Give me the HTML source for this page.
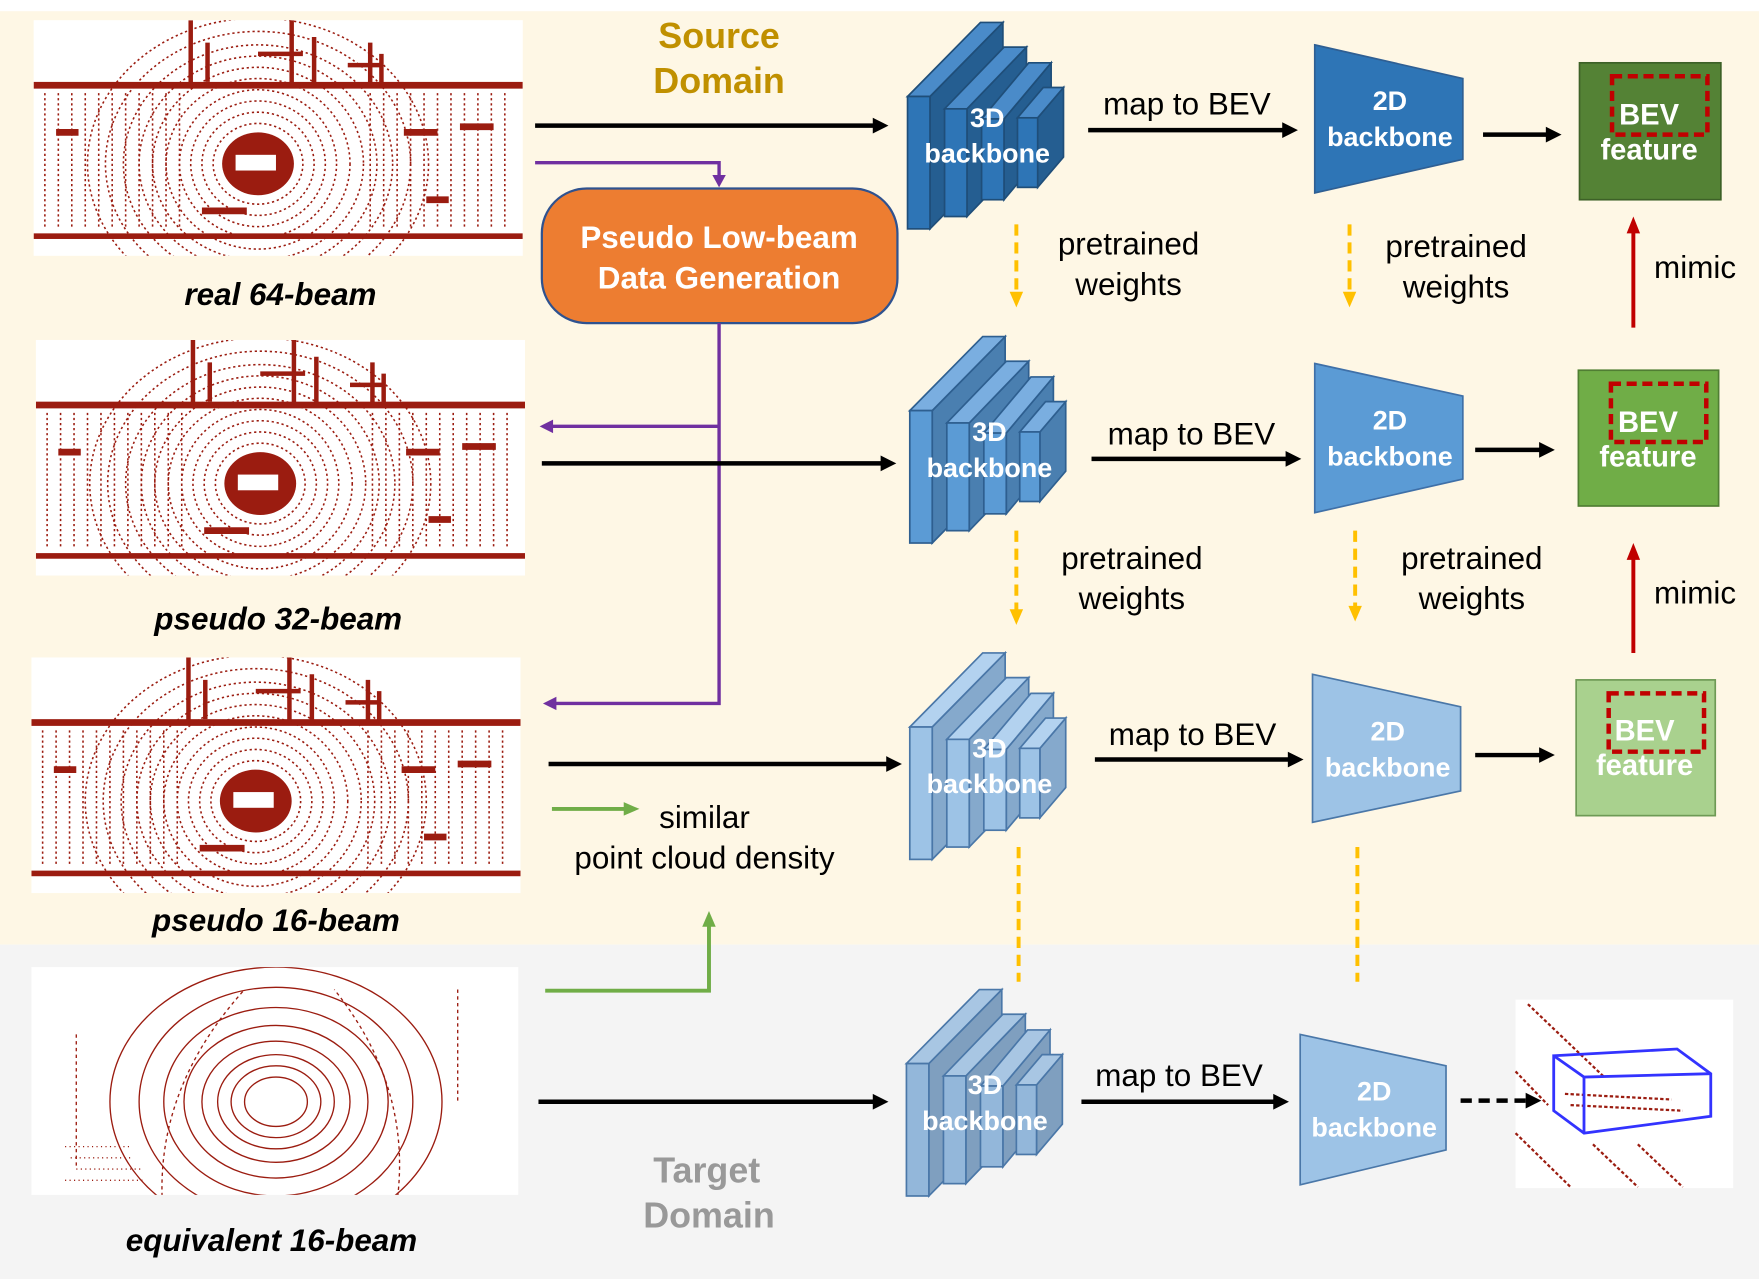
<!DOCTYPE html>
<html><head><meta charset="utf-8"><style>
html,body{margin:0;padding:0;background:#fff;}
svg{display:block}
text{font-family:"Liberation Sans",sans-serif;}
</style></head><body>
<svg width="1759" height="1279" viewBox="0 0 1568 1140" preserveAspectRatio="none" xmlns="http://www.w3.org/2000/svg">
<defs>
<clipPath id="c1"><rect x="0" y="0" width="436" height="210"/></clipPath>
<clipPath id="c2"><rect x="0" y="0" width="434" height="203"/></clipPath>
<g id="pc">
 <rect x="0" y="0" width="436" height="210" fill="#fff"/>
 <g clip-path="url(#c1)" fill="none" stroke="#9b1c10">
  <rect x="0" y="55" width="436" height="6" fill="#9b1c10" stroke="none"/>
  <rect x="0" y="190" width="436" height="5" fill="#9b1c10" stroke="none"/>
  <path d="M140 0 V60 M155 20 V55 M230 0 V60 M250 15 V60 M300 20 V60 M310 30 V60 M200 30 h40 M280 40 h30" stroke-width="4"/>
  <g stroke-width="1.4" stroke-dasharray="2 2.5">
   <path d="M10 65 V185 M22 65 V185 M34 65 V185 M46 65 V185 M58 65 V185 M70 65 V185 M82 65 V185 M94 65 V185 M106 65 V185 M118 65 V185 M130 65 V185 M300 65 V185 M312 65 V185 M324 65 V185 M336 65 V185 M348 65 V185 M360 65 V185 M372 65 V185 M384 65 V185 M396 65 V185 M408 65 V185 M420 65 V185"/>
   <ellipse cx="200" cy="128" rx="30" ry="26"/><ellipse cx="200" cy="128" rx="40" ry="36"/>
   <ellipse cx="200" cy="128" rx="50" ry="46"/><ellipse cx="200" cy="128" rx="60" ry="56"/>
   <ellipse cx="200" cy="128" rx="70" ry="66"/><ellipse cx="200" cy="128" rx="82" ry="76"/>
   <ellipse cx="200" cy="128" rx="94" ry="86"/><ellipse cx="200" cy="128" rx="106" ry="96"/>
   <ellipse cx="200" cy="128" rx="120" ry="106"/><ellipse cx="200" cy="128" rx="136" ry="118"/>
   <ellipse cx="200" cy="128" rx="152" ry="130"/>
  </g>
  <ellipse cx="200" cy="128" rx="32" ry="28" fill="#9b1c10" stroke="none"/>
  <rect x="180" y="120" width="36" height="14" fill="#fff" stroke="none"/>
  <path d="M330 100 h30 M380 95 h30 M20 100 h20 M150 170 h40 M350 160 h20" stroke-width="6"/>
 </g>
</g>
<g id="pc16">
 <rect x="0" y="0" width="434" height="203" fill="#fff"/>
 <g clip-path="url(#c2)" fill="none" stroke="#9b1c10" stroke-width="1.2">
  <ellipse cx="218" cy="120" rx="28" ry="22"/><ellipse cx="218" cy="120" rx="40" ry="32"/>
  <ellipse cx="218" cy="120" rx="52" ry="42"/><ellipse cx="218" cy="120" rx="66" ry="54"/>
  <ellipse cx="218" cy="120" rx="82" ry="68"/><ellipse cx="218" cy="120" rx="100" ry="84"/>
  <ellipse cx="218" cy="120" rx="122" ry="102"/><ellipse cx="218" cy="120" rx="148" ry="120"/>
  <path d="M120 240 Q100 120 190 20 M320 240 Q350 120 270 20 M380 20 V120 M40 60 V180" stroke-dasharray="3 3"/>
  <path d="M30 160 h60 M35 170 h55 M40 180 h60 M30 190 h70" stroke-dasharray="1 3"/>
 </g>
</g>
</defs>

<rect x="0" y="0" width="1568" height="1140" fill="#fff"/>
<rect x="0" y="10" width="1568" height="832" fill="#fef7e5"/>
<rect x="0" y="842" width="1568" height="298" fill="#f4f4f4"/>

<use href="#pc" x="30" y="18"/>
<use href="#pc" x="32" y="303"/>
<use href="#pc" x="28" y="586"/>
<use href="#pc16" x="28" y="862"/>

<!-- detection output image -->
<rect x="1351" y="891" width="194" height="168" fill="#fff"/>
<g stroke="#9b1c10" stroke-width="2" fill="none" stroke-dasharray="3 2">
<path d="M1362 895 L1430 960 M1351 955 L1380 985 M1351 1010 L1400 1058 M1420 1020 L1460 1058 M1460 1020 L1500 1058 M1400 985 L1500 990 M1395 975 L1490 980"/>
</g>
<g stroke="#3333ff" stroke-width="2.5" fill="none">
<polygon points="1385,941 1495,935 1525,957 1525,995 1412,1010 1385,990"/>
<path d="M1385 941 L1412 960 L1525 957 M1412 960 V1010"/>
</g>

<g font-weight="bold" font-style="italic" font-size="28" text-anchor="middle" fill="#000">
<text x="250" y="272">real 64-beam</text>
<text x="248" y="561">pseudo 32-beam</text>
<text x="246" y="830">pseudo 16-beam</text>
<text x="242" y="1115">equivalent 16-beam</text>
</g>
<g font-weight="bold" font-size="32" text-anchor="middle" fill="#c09000">
<text x="641" y="43">Source</text><text x="641" y="83">Domain</text>
</g>
<g font-weight="bold" font-size="32" text-anchor="middle" fill="#999">
<text x="630" y="1054">Target</text><text x="632" y="1094">Domain</text>
</g>

<rect x="483" y="168" width="317" height="120" rx="40" fill="#ed7d31" stroke="#2f528f" stroke-width="2"/>
<g font-weight="bold" font-size="28" text-anchor="middle" fill="#fff">
<text x="641" y="221">Pseudo Low-beam</text><text x="641" y="257">Data Generation</text>
</g>

<g stroke="#7030a0" stroke-width="3" fill="none">
<path d="M477 145 H641 V158"/>
<path d="M641 288 V627 H495"/>
<path d="M641 380 H492"/>
</g>
<g fill="#7030a0">
<polygon points="635,156 647,156 641,167"/>
<polygon points="484,627 496,621 496,633"/>
<polygon points="481,380 493,374 493,386"/>
</g>

<g stroke="#000" stroke-width="4" fill="none">
<path d="M477 112 H780"/><path d="M483 413 H787"/><path d="M489 681 H792"/><path d="M480 982 H780"/>
<path d="M970 116 H1145"/><path d="M973 409 H1148"/><path d="M976 677 H1150"/><path d="M964 982 H1137"/>
<path d="M1322 120 H1380"/><path d="M1315 401 H1374"/><path d="M1315 673 H1374"/>
<path d="M1302 981 H1362" stroke-dasharray="10 6"/>
</g>
<g fill="#000">
<polygon points="792,112 778,105 778,119"/><polygon points="799,413 785,406 785,420"/>
<polygon points="804,681 790,674 790,688"/><polygon points="792,982 778,975 778,989"/>
<polygon points="1157,116 1143,109 1143,123"/><polygon points="1160,409 1146,402 1146,416"/>
<polygon points="1162,677 1148,670 1148,684"/><polygon points="1149,982 1135,975 1135,989"/>
<polygon points="1392,120 1378,113 1378,127"/><polygon points="1386,401 1372,394 1372,408"/>
<polygon points="1386,673 1372,666 1372,680"/><polygon points="1374,981 1360,974 1360,988"/>
</g>

<g stroke="#1f4e79" stroke-width="1.5">
 <polygon points="829,86 894,20 894,138 829,204" fill="#255e91"/><polygon points="809,86 874,20 894,20 829,86" fill="#4a8bc9"/><rect x="809" y="86" width="20" height="118" fill="#2e75b6"/>
 <polygon points="862,97 915,42 915,138 862,193" fill="#255e91"/><polygon points="842,97 895,42 915,42 862,97" fill="#4a8bc9"/><rect x="842" y="97" width="20" height="96" fill="#2e75b6"/>
 <polygon points="895,106 937,56 937,128 895,178" fill="#255e91"/><polygon points="875,106 917,56 937,56 895,106" fill="#4a8bc9"/><rect x="875" y="106" width="20" height="72" fill="#2e75b6"/>
 <polygon points="925,105 948,78 948,140 925,167" fill="#255e91"/><polygon points="907,105 930,78 948,78 925,105" fill="#4a8bc9"/><rect x="907" y="105" width="18" height="62" fill="#2e75b6"/>
</g>
<g transform="translate(2,280)" stroke="#2e5f90" stroke-width="1.5">
 <polygon points="829,86 894,20 894,138 829,204" fill="#4a7fb0"/><polygon points="809,86 874,20 894,20 829,86" fill="#7aaee0"/><rect x="809" y="86" width="20" height="118" fill="#5b9bd5"/>
 <polygon points="862,97 915,42 915,138 862,193" fill="#4a7fb0"/><polygon points="842,97 895,42 915,42 862,97" fill="#7aaee0"/><rect x="842" y="97" width="20" height="96" fill="#5b9bd5"/>
 <polygon points="895,106 937,56 937,128 895,178" fill="#4a7fb0"/><polygon points="875,106 917,56 937,56 895,106" fill="#7aaee0"/><rect x="875" y="106" width="20" height="72" fill="#5b9bd5"/>
 <polygon points="925,105 948,78 948,140 925,167" fill="#4a7fb0"/><polygon points="907,105 930,78 948,78 925,105" fill="#7aaee0"/><rect x="907" y="105" width="18" height="62" fill="#5b9bd5"/>
</g>
<g transform="translate(2,562)" stroke="#4a77a8" stroke-width="1.5">
 <polygon points="829,86 894,20 894,138 829,204" fill="#85a9cc"/><polygon points="809,86 874,20 894,20 829,86" fill="#b3d2ef"/><rect x="809" y="86" width="20" height="118" fill="#9dc3e6"/>
 <polygon points="862,97 915,42 915,138 862,193" fill="#85a9cc"/><polygon points="842,97 895,42 915,42 862,97" fill="#b3d2ef"/><rect x="842" y="97" width="20" height="96" fill="#9dc3e6"/>
 <polygon points="895,106 937,56 937,128 895,178" fill="#85a9cc"/><polygon points="875,106 917,56 937,56 895,106" fill="#b3d2ef"/><rect x="875" y="106" width="20" height="72" fill="#9dc3e6"/>
 <polygon points="925,105 948,78 948,140 925,167" fill="#85a9cc"/><polygon points="907,105 930,78 948,78 925,105" fill="#b3d2ef"/><rect x="907" y="105" width="18" height="62" fill="#9dc3e6"/>
</g>
<g transform="translate(-1,862)" stroke="#4a77a8" stroke-width="1.5">
 <polygon points="829,86 894,20 894,138 829,204" fill="#7f9fbf"/><polygon points="809,86 874,20 894,20 829,86" fill="#a8c6e3"/><rect x="809" y="86" width="20" height="118" fill="#93b7da"/>
 <polygon points="862,97 915,42 915,138 862,193" fill="#7f9fbf"/><polygon points="842,97 895,42 915,42 862,97" fill="#a8c6e3"/><rect x="842" y="97" width="20" height="96" fill="#93b7da"/>
 <polygon points="895,106 937,56 937,128 895,178" fill="#7f9fbf"/><polygon points="875,106 917,56 937,56 895,106" fill="#a8c6e3"/><rect x="875" y="106" width="20" height="72" fill="#93b7da"/>
 <polygon points="925,105 948,78 948,140 925,167" fill="#7f9fbf"/><polygon points="907,105 930,78 948,78 925,105" fill="#a8c6e3"/><rect x="907" y="105" width="18" height="62" fill="#93b7da"/>
</g>
<g font-weight="bold" font-size="24" text-anchor="middle" fill="#fff">
<text x="880" y="113">3D</text><text x="880" y="145">backbone</text>
<text x="882" y="393">3D</text><text x="882" y="425">backbone</text>
<text x="882" y="675">3D</text><text x="882" y="707">backbone</text>
<text x="878" y="975">3D</text><text x="878" y="1007">backbone</text>
</g>

<polygon points="1172,40 1304,70 1304,142 1172,172" fill="#2e75b6" stroke="#2f5f93" stroke-width="1.5"/>
<polygon points="1172,324 1304,353 1304,427 1172,457" fill="#5b9bd5" stroke="#3f70a8" stroke-width="1.5"/>
<polygon points="1170,601 1302,630 1302,705 1170,733" fill="#9dc3e6" stroke="#4a77a8" stroke-width="1.5"/>
<polygon points="1159,922 1289,950 1289,1025 1159,1056" fill="#9dc3e6" stroke="#4a77a8" stroke-width="1.5"/>
<g font-weight="bold" font-size="24" text-anchor="middle" fill="#fff">
<text x="1239" y="98">2D</text><text x="1239" y="130">backbone</text>
<text x="1239" y="383">2D</text><text x="1239" y="415">backbone</text>
<text x="1237" y="660">2D</text><text x="1237" y="692">backbone</text>
<text x="1225" y="981">2D</text><text x="1225" y="1013">backbone</text>
</g>

<g font-size="28" text-anchor="middle" fill="#000">
<text x="1058" y="102">map to BEV</text><text x="1062" y="396">map to BEV</text>
<text x="1063" y="664">map to BEV</text><text x="1051" y="968">map to BEV</text>
<text x="1006" y="227">pretrained</text><text x="1006" y="263">weights</text>
<text x="1298" y="229">pretrained</text><text x="1298" y="265">weights</text>
<text x="1009" y="507">pretrained</text><text x="1009" y="543">weights</text>
<text x="1312" y="507">pretrained</text><text x="1312" y="543">weights</text>
<text x="1511" y="248">mimic</text><text x="1511" y="538">mimic</text>
<text x="628" y="738">similar</text><text x="628" y="774">point cloud density</text>
</g>

<rect x="1408" y="56" width="126" height="122" fill="#548235" stroke="#3d6127" stroke-width="1.5"/>
<rect x="1407" y="330" width="125" height="121" fill="#70ad47" stroke="#507e33" stroke-width="1.5"/>
<rect x="1405" y="606" width="124" height="121" fill="#a9d18e" stroke="#6e9a55" stroke-width="1.5"/>
<g fill="none" stroke="#c00000" stroke-width="4" stroke-dasharray="9 5">
<rect x="1437" y="68" width="85" height="52"/><rect x="1436" y="342" width="85" height="52"/><rect x="1434" y="618" width="85" height="52"/>
</g>
<g font-weight="bold" font-size="26" text-anchor="middle" fill="#fff">
<text x="1470" y="111">BEV</text><text x="1470" y="142">feature</text>
<text x="1469" y="385">BEV</text><text x="1469" y="416">feature</text>
<text x="1466" y="660">BEV</text><text x="1466" y="691">feature</text>
</g>

<g stroke="#c00000" stroke-width="3.5"><path d="M1456 292 V206"/><path d="M1456 582 V497"/></g>
<g fill="#c00000"><polygon points="1456,193 1450,208 1462,208"/><polygon points="1456,484 1450,499 1462,499"/></g>

<g stroke="#ffc000" stroke-width="3.5" stroke-dasharray="10 6" fill="none">
<path d="M906 200 V262"/><path d="M1203 200 V262"/><path d="M906 473 V545"/><path d="M1208 473 V542"/>
<path d="M908 755 V875"/><path d="M1210 755 V875"/>
</g>
<g fill="#ffc000">
<polygon points="906,274 900,260 912,260"/><polygon points="1203,274 1197,260 1209,260"/>
<polygon points="906,557 900,543 912,543"/><polygon points="1208,554 1202,540 1214,540"/>
</g>

<g stroke="#70ad47" stroke-width="3.5" fill="none">
<path d="M492 721 H558"/><path d="M486 883 H632 V824"/>
</g>
<g fill="#70ad47"><polygon points="570,721 556,715 556,727"/><polygon points="632,812 626,826 638,826"/></g>
</svg>
</body></html>
